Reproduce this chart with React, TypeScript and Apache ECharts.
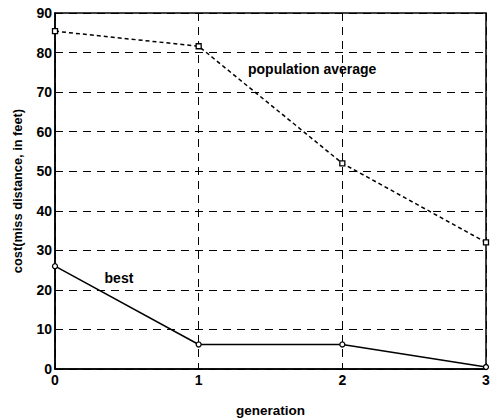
import React, { useEffect, useRef } from "react";
import * as echarts from "echarts";

const generations = [0, 1, 2, 3];
const populationAverage = [85.4, 81.6, 52, 32];
const best = [26, 6.2, 6.2, 0.5];
const yTicks = [0, 10, 20, 30, 40, 50, 60, 70, 80, 90];

const FONT = "Liberation Sans, Arial, sans-serif";

export default function App() {
  const ref = useRef<HTMLDivElement>(null);
  useEffect(() => {
    if (!ref.current) return;
    const chart = echarts.init(ref.current, undefined, { renderer: "svg" });
    const grid = {
      show: true,
      left: 55,
      right: 4,
      top: 13,
      bottom: 49,
      containLabel: false,
      outerBoundsMode: "none",
      borderColor: "#000",
      borderWidth: 1.5,
      backgroundColor: "#fff",
    };
    const splitLine = {
      show: true,
      lineStyle: { color: "#000", type: [8, 6] as any, width: 1 },
    };
    const labelText = {
      show: true,
      position: "inside",
      fontFamily: FONT,
      fontWeight: "bold",
      fontSize: 14,
      color: "#000",
    };
    chart.setOption({
      animation: false,
      backgroundColor: "#fff",
      grid,
      xAxis: {
        type: "value",
        min: 0,
        max: 3,
        interval: 1,
        name: "generation",
        nameLocation: "middle",
        nameGap: 34,
        nameTextStyle: { fontFamily: FONT, fontWeight: "bold", fontSize: 13.5, color: "#000" },
        axisLine: { show: true, lineStyle: { color: "#000", width: 1.5 } },
        axisTick: { show: true, inside: true, length: 4, lineStyle: { color: "#000" } },
        axisLabel: { fontFamily: FONT, fontWeight: "bold", fontSize: 14, color: "#000", margin: 4 },
        splitLine,
      },
      yAxis: {
        type: "value",
        min: yTicks[0],
        max: yTicks[yTicks.length - 1],
        interval: 10,
        name: "cost(miss distance, in feet)",
        nameLocation: "middle",
        nameGap: 31,
        nameTextStyle: { fontFamily: FONT, fontWeight: "bold", fontSize: 12.8, color: "#000" },
        axisLine: { show: true, lineStyle: { color: "#000", width: 1.5 } },
        axisTick: { show: true, inside: true, length: 4, lineStyle: { color: "#000" } },
        axisLabel: { fontFamily: FONT, fontWeight: "bold", fontSize: 14, color: "#000", margin: 3 },
        splitLine,
      },
      series: [
        {
          type: "line",
          name: "population average",
          data: generations.map((g, i) => [g, populationAverage[i]]),
          symbol: "rect",
          symbolSize: 5,
          showAllSymbol: true,
          itemStyle: { color: "#fff", borderColor: "#000", borderWidth: 1.3 },
          lineStyle: { color: "#000", width: 1.5, type: [4, 3] as any },
          markPoint: {
            symbol: "circle",
            symbolSize: 0,
            data: [
              {
                coord: [1.79, 75.8],
                label: { ...labelText, formatter: "population average" },
              },
            ],
          },
        },
        {
          type: "line",
          name: "best",
          data: generations.map((g, i) => [g, best[i]]),
          symbol: "circle",
          symbolSize: 5,
          showAllSymbol: true,
          itemStyle: { color: "#fff", borderColor: "#000", borderWidth: 1.3 },
          lineStyle: { color: "#000", width: 1.5 },
          markPoint: {
            symbol: "circle",
            symbolSize: 0,
            data: [
              {
                coord: [0.445, 23],
                label: { ...labelText, formatter: "best" },
              },
            ],
          },
        },
      ],
    });
    return () => chart.dispose();
  }, []);
  return <div ref={ref} style={{ width: 490, height: 418, position: "absolute", left: 0, top: 0 }} />;
}
